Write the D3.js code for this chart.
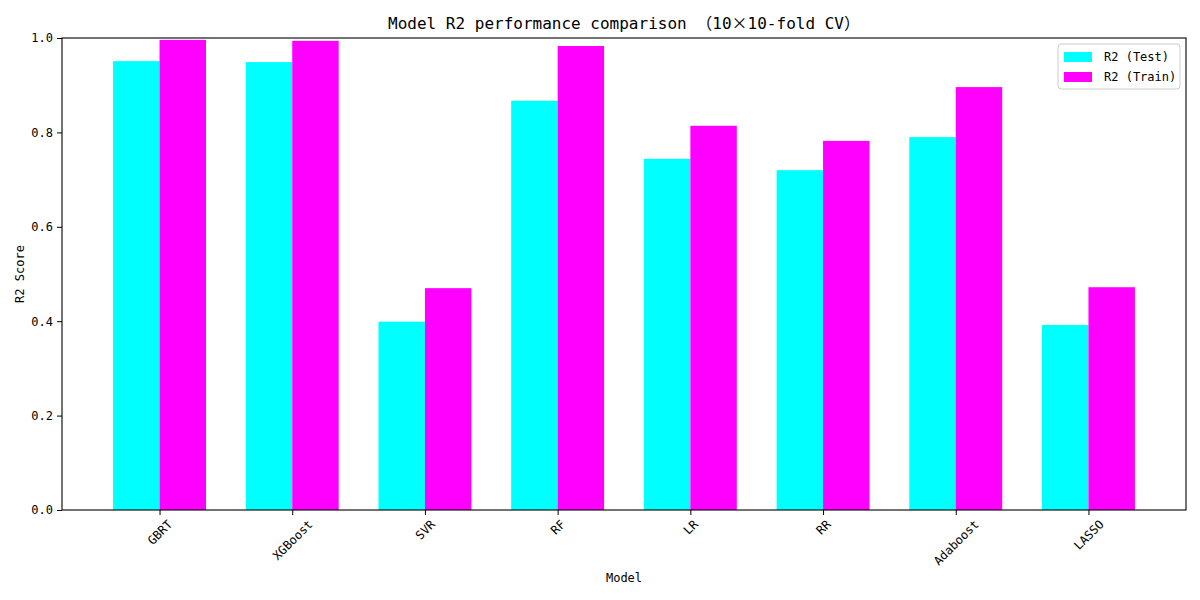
<!DOCTYPE html>
<html>
<head>
<meta charset="utf-8">
<script src="https://cdn.jsdelivr.net/npm/d3@7"></script>
<style>
  html, body { margin: 0; padding: 0; background: #fff; }
  svg { display: block; }
  text { font-family: "DejaVu Sans Mono", "Noto Sans CJK SC", monospace; fill: #000; }
</style>
</head>
<body>
<svg id="chart" width="1200" height="600"></svg>
<script>
const models = ["GBRT", "XGBoost", "SVR", "RF", "LR", "RR", "Adaboost", "LASSO"];
const r2Test  = [0.951, 0.949, 0.399, 0.867, 0.744, 0.720, 0.790, 0.392];
const r2Train = [0.996, 0.994, 0.470, 0.983, 0.814, 0.782, 0.896, 0.472];
const seriesNames = ["R2 (Test)", "R2 (Train)"];
const seriesColors = ["#00FFFF", "#FF00FF"];
const yTicks = [0.0, 0.2, 0.4, 0.6, 0.8, 1.0];

const svg = d3.select("#chart");
const m = { left: 62, right: 1186, top: 38, bottom: 510 };
const barW = 0.35;
const n = models.length;
const pad = (n - 1 + 2 * barW) * 0.05;

const x = d3.scaleLinear().domain([-barW - pad, n - 1 + barW + pad]).range([m.left, m.right]);
const y = d3.scaleLinear().domain([0, 1]).range([m.bottom, m.top]);

// bars
const series = [r2Test, r2Train];
series.forEach((vals, si) => {
  svg.append("g").selectAll("rect").data(vals).join("rect")
    .attr("x", (d, i) => x(i + (si === 0 ? -barW : 0)))
    .attr("width", (d, i) => x(i + barW) - x(i))
    .attr("y", d => y(d))
    .attr("height", d => y(0) - y(d))
    .attr("fill", seriesColors[si]);
});

// frame
svg.append("rect")
  .attr("x", m.left).attr("y", m.top)
  .attr("width", m.right - m.left).attr("height", m.bottom - m.top)
  .attr("fill", "none").attr("stroke", "#000").attr("stroke-width", 1.1);

// y axis
const yAxis = d3.axisLeft(y).tickValues(yTicks).tickFormat(d3.format(".1f")).tickSize(5).tickPadding(4);
const gy = svg.append("g").attr("transform", `translate(${m.left},0)`).call(yAxis);
gy.select(".domain").remove();
gy.selectAll("text").style("font-size", "12px");
gy.selectAll("line").attr("stroke", "#000");

// x axis
const xAxis = d3.axisBottom(x).tickValues(d3.range(n)).tickFormat(i => models[i]).tickSize(5);
const gx = svg.append("g").attr("transform", `translate(0,${m.bottom})`).call(xAxis);
gx.select(".domain").remove();
gx.selectAll("line").attr("stroke", "#000");
gx.selectAll("text").each(function () {
  const t = d3.select(this);
  t.style("font-size", "12px").attr("dy", null).attr("y", null).attr("text-anchor", "middle")
   .attr("dominant-baseline", "central");
  const L = this.getComputedTextLength();
  const h = 12;
  const c = 8 + (L + h) * Math.SQRT1_2 / 2;
  t.attr("transform", `translate(0,${c}) rotate(-45)`);
});

// axis labels
svg.append("text").attr("x", (m.left + m.right) / 2).attr("y", 582)
  .attr("text-anchor", "middle").style("font-size", "12px").text("Model");
svg.append("text").attr("transform", `translate(24,${(m.top + m.bottom) / 2}) rotate(-90)`)
  .attr("text-anchor", "middle").style("font-size", "12px").text("R2 Score");

// title
const title = svg.append("text").attr("x", (m.left + m.right) / 2).attr("y", 29)
  .attr("text-anchor", "middle").style("font-size", "16px");
title.append("tspan").text("Model R2 performance comparison ");
title.append("tspan").style("font-family", "'Noto Sans CJK SC'").text("（");
title.append("tspan").text("10");
title.append("tspan").style("font-family", "'Noto Sans CJK SC'").text("×");
title.append("tspan").text("10-fold CV");
title.append("tspan").style("font-family", "'Noto Sans CJK SC'").text("）");

// legend
const lg = svg.append("g").attr("transform", "translate(1058,44)");
lg.append("rect").attr("width", 122).attr("height", 45).attr("rx", 3)
  .attr("fill", "#fff").attr("fill-opacity", 0.8).attr("stroke", "#ccc");
seriesNames.forEach((name, i) => {
  lg.append("rect").attr("x", 6).attr("y", 8 + i * 20).attr("width", 28).attr("height", 10)
    .attr("fill", seriesColors[i]);
  lg.append("text").attr("x", 46).attr("y", 13 + i * 20).attr("dominant-baseline", "central")
    .style("font-size", "12px").text(name);
});
</script>
</body>
</html>
